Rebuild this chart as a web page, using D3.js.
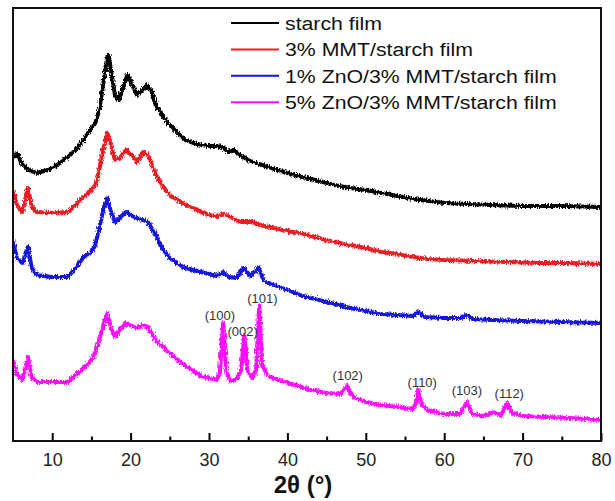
<!DOCTYPE html>
<html lang="en">
<head>
<meta charset="UTF-8">
<title>XRD patterns of starch films</title>
<script src="https://d3js.org/d3.v7.min.js"></script>
<style>
    body { margin: 0; background: #fff; }
    svg { display: block; font-family: "Liberation Sans", Arial, sans-serif; }
    .tick text { font-size: 18px; fill: #222; }
    .hkl { font-size: 13px; fill: #333; }
    .legend text { font-size: 19px; fill: #111; }
</style>
</head>
<body>
<script>
    // [2theta, counts]
    const starchFilm = [
        [5, 2840], [5.6, 2870], [6, 2790], [7, 2710], [8, 2680], [9, 2700], [10, 2730], [11, 2780], [12, 2840],
        [13, 2910], [14, 3010], [15, 3130], [15.5, 3180], [16, 3310], [16.5, 3560], [17, 3830],
        [17.2, 3860], [17.6, 3660], [18, 3460], [18.5, 3410], [19, 3530], [19.6, 3660], [20.2, 3560],
        [20.8, 3460], [21.5, 3510], [22.1, 3560], [22.6, 3510], [23.2, 3360], [24, 3260], [25, 3160],
        [26, 3080], [27, 3010], [28, 2980], [29, 2960], [30, 2950], [31, 2950], [31.8, 2930],
        [32.5, 2890], [33.2, 2910], [34, 2860], [35, 2810], [36, 2780], [38, 2730], [40, 2680],
        [42, 2640], [44, 2600], [46, 2560], [48, 2530], [50, 2510], [52, 2480], [54, 2450],
        [56, 2420], [58, 2400], [60, 2380], [63, 2370], [66, 2360], [70, 2350], [75, 2350], [80, 2340]
    ];
    const mmtFilm = [
        [5, 2510], [5.5, 2360], [6.2, 2290], [6.9, 2530], [7.4, 2340], [8, 2290], [10, 2280],
        [12, 2290], [13, 2360], [14, 2440], [15, 2510], [15.5, 2560], [16, 2710], [16.5, 2910],
        [17, 3080], [17.5, 2960], [18, 2810], [18.6, 2830], [19.4, 2910], [20.2, 2860], [20.8, 2790],
        [21.6, 2890], [22.2, 2860], [23, 2710], [24, 2560], [25, 2460], [26, 2410], [27, 2360],
        [28, 2330], [29, 2290], [30, 2260], [31, 2250], [32, 2270], [33, 2230], [34, 2190],
        [35.5, 2190], [37, 2150], [40, 2100], [42, 2070], [44, 2030], [46, 1990], [48, 1960],
        [50, 1930], [52, 1890], [54, 1870], [56, 1840], [58, 1820], [60, 1810], [64, 1800],
        [68, 1790], [72, 1780], [76, 1780], [80, 1770]
    ];
    const zno1Film = [
        [5, 2010], [5.5, 1830], [6.2, 1780], [6.9, 1940], [7.4, 1730], [8, 1660], [10, 1640],
        [12, 1640], [13, 1730], [14, 1840], [15, 1890], [15.5, 1960], [16, 2130], [16.5, 2310],
        [17, 2430], [17.5, 2290], [18, 2190], [18.6, 2230], [19.4, 2290], [20.2, 2250], [20.8, 2230],
        [21.6, 2210], [22.2, 2190], [23, 2090], [24, 1930], [25, 1830], [26, 1770], [27, 1730],
        [28, 1710], [29, 1690], [30, 1670], [31, 1650], [31.8, 1690], [32.5, 1640], [33.5, 1630],
        [34.4, 1730], [35.3, 1650], [36.3, 1740], [37, 1600], [38, 1570], [40, 1510], [42, 1450],
        [44, 1410], [46, 1370], [48, 1330], [50, 1300], [52, 1270], [54, 1260], [56, 1250],
        [56.7, 1290], [57.5, 1240], [60, 1230], [62.2, 1230], [62.9, 1260], [63.6, 1220],
        [66, 1210], [70, 1200], [75, 1190], [80, 1180]
    ];
    const zno5Film = [
        [5, 810], [5.5, 660], [6.2, 610], [6.9, 840], [7.4, 630], [8, 590], [10, 590], [12, 590],
        [13, 660], [14, 730], [15, 810], [15.5, 890], [16, 1010], [16.5, 1160], [17, 1280],
        [17.5, 1130], [18, 1040], [18.6, 1110], [19.4, 1180], [20.2, 1150], [20.8, 1130],
        [21.6, 1160], [22.2, 1140], [23, 1030], [24, 950], [25, 880], [26, 810], [27, 750],
        [28, 700], [29, 650], [30, 630], [31, 610], [31.4, 690], [31.8, 1180], [32.2, 690],
        [32.8, 590], [33.6, 630], [34.1, 710], [34.5, 1060], [34.9, 710], [35.5, 630], [36, 710],
        [36.4, 1360], [36.8, 760], [37.5, 650], [39, 610], [41, 560], [43, 510], [45, 480],
        [46.8, 470], [47.6, 550], [48.4, 440], [50, 390], [52, 360], [54, 340], [56, 320],
        [56.4, 390], [56.7, 510], [57.1, 370], [57.8, 310], [60, 270], [62, 270], [62.9, 390],
        [63.6, 270], [65, 250], [66.5, 290], [67.2, 250], [68, 380], [68.7, 280], [70, 250],
        [73, 240], [76, 230], [80, 210]
    ];

    const seriesNames = ["starch film", "3% MMT/starch film", "1% ZnO/3% MMT/starch film", "5% ZnO/3% MMT/starch film"];
    const seriesColors = ["#000000", "#ec1c24", "#1414dc", "#ff10ff"];
    const seriesData = [starchFilm, mmtFilm, zno1Film, zno5Film];

    // ZnO reflections: label, angle and height of the label centre
    const hklLabels = ["(100)", "(002)", "(101)", "(102)", "(110)", "(103)", "(112)"];
    const hklAngles = [31.4, 34.3, 36.8, 47.7, 57.2, 62.9, 68.3];
    const hklLevels = [1260, 1100, 1430, 660, 590, 510, 480];

    const majorTicks = [10, 20, 30, 40, 50, 60, 70, 80];
    const minorTicks = [15, 25, 35, 45, 55, 65, 75];

    const width = 615, height = 501;
    const margin = { left: 13, right: 14, top: 8, bottom: 60 };
    const plotW = width - margin.left - margin.right;
    const plotH = height - margin.top - margin.bottom;

    const svg = d3.select("body").append("svg")
        .attr("width", width)
        .attr("height", height);

    // noisy look of the measured patterns
    const filter = svg.append("defs").append("filter")
        .attr("id", "rough")
        .attr("filterUnits", "userSpaceOnUse")
        .attr("x", 0).attr("y", 0).attr("width", width).attr("height", height);
    filter.append("feTurbulence")
        .attr("type", "fractalNoise")
        .attr("baseFrequency", "1.1 0.35")
        .attr("numOctaves", 2)
        .attr("seed", 4)
        .attr("result", "noise");
    filter.append("feDisplacementMap")
        .attr("in", "SourceGraphic")
        .attr("in2", "noise")
        .attr("scale", 5)
        .attr("xChannelSelector", "R")
        .attr("yChannelSelector", "G");

    const g = svg.append("g")
        .attr("transform", `translate(${margin.left},${margin.top})`);

    const x = d3.scaleLinear().domain([5, 80]).range([0, plotW]);
    const y = d3.scaleLinear().domain([0, 4330]).range([plotH, 0]);

    const line = d3.line()
        .x(d => x(d[0]))
        .y(d => y(d[1]));

    g.selectAll(".pattern")
        .data(seriesData)
        .enter().append("path")
        .attr("class", "pattern")
        .attr("d", line)
        .attr("fill", "none")
        .attr("stroke", (d, i) => seriesColors[i])
        .attr("stroke-width", 4)
        .attr("stroke-linejoin", "round")
        .attr("filter", "url(#rough)");

    // peak labels
    g.selectAll(".hkl")
        .data(hklLabels)
        .enter().append("text")
        .attr("class", "hkl")
        .attr("x", (d, i) => x(hklAngles[i]))
        .attr("y", (d, i) => y(hklLevels[i]))
        .attr("dy", "0.35em")
        .attr("text-anchor", "middle")
        .text(d => d);

    // x axis, ticks pointing inwards
    const xAxis = g.append("g")
        .attr("transform", `translate(0,${plotH})`)
        .call(d3.axisBottom(x).tickValues(majorTicks).tickSize(-8).tickPadding(12));
    xAxis.select(".domain").remove();
    xAxis.selectAll("line").attr("stroke-width", 2);

    const xMinor = g.append("g")
        .attr("transform", `translate(0,${plotH})`)
        .call(d3.axisBottom(x).tickValues(minorTicks).tickSize(-4.5).tickFormat(""));
    xMinor.select(".domain").remove();
    xMinor.selectAll("line").attr("stroke-width", 2);

    g.append("rect")
        .attr("width", plotW)
        .attr("height", plotH)
        .attr("fill", "none")
        .attr("stroke", "#111")
        .attr("stroke-width", 2);

    svg.append("text")
        .attr("x", 303)
        .attr("y", 493)
        .attr("text-anchor", "middle")
        .attr("font-size", 24)
        .attr("font-weight", "bold")
        .attr("fill", "#111")
        .text("2θ (°)");

    // legend
    const legend = svg.append("g")
        .attr("class", "legend")
        .attr("transform", "translate(231,23)");
    const rows = legend.selectAll("g")
        .data(seriesNames)
        .enter().append("g")
        .attr("transform", (d, i) => `translate(0,${i * 26.4})`);
    rows.append("line")
        .attr("x1", 0).attr("x2", 48)
        .attr("stroke", (d, i) => seriesColors[i])
        .attr("stroke-width", 2);
    rows.append("text")
        .attr("transform", "translate(54,0) scale(1.12,1)")
        .attr("dy", "0.36em")
        .text(d => d);
</script>
</body>
</html>
